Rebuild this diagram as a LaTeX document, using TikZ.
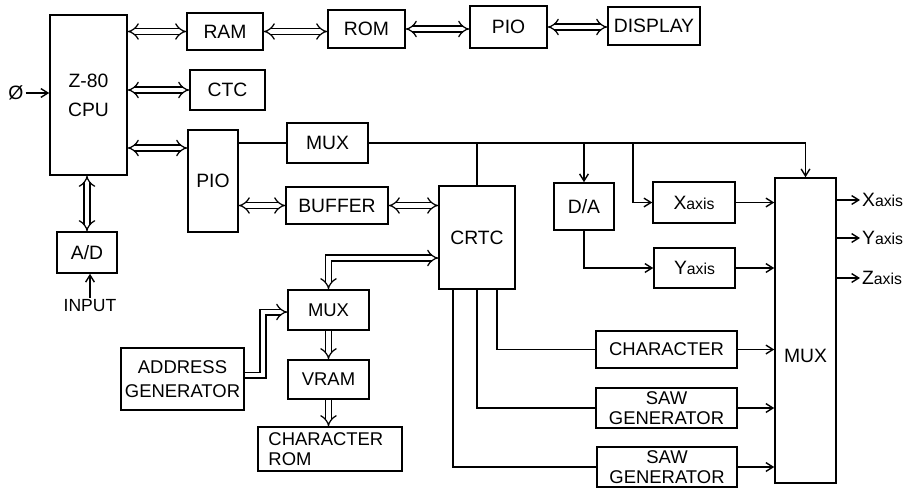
\documentclass[tikz,border=0pt]{standalone}
\usepackage{fontspec}
\setmainfont{Liberation Sans}
\usetikzlibrary{arrows.meta}

\begin{document}
\begin{tikzpicture}[
  x=0.02cm, y=-0.02cm,
  blk/.style={draw, line width=0.9pt, inner sep=1pt, align=center, font=\fontsize{11}{12.5}\selectfont},
  sml/.style={blk, font=\fontsize{10.5}{11.5}\selectfont},
  bus/.style={line width=0.7pt, double, double distance=2.6pt, {Implies}-{Implies}},
  busr/.style={line width=0.7pt, double, double distance=2.6pt, -{Implies}},
  sig/.style={line width=0.8pt, -{Straight Barb[length=4pt,width=5pt]}},
  wire/.style={line width=0.8pt},
  axl/.style={font=\fontsize{11}{12}\selectfont, inner sep=1pt}
]
  \useasboundingbox (0,0) rectangle (911,488);

  % processor side
  \node[blk, minimum width=1.54cm, minimum height=3.2cm] (cpu) at (88.5,95) {Z-80\\[4pt]CPU};
  \node[blk, minimum width=1.52cm, minimum height=0.74cm] (ram) at (225,31.5) {RAM};
  \node[blk, minimum width=1.54cm, minimum height=0.76cm] (rom) at (366.5,29) {ROM};
  \node[blk, minimum width=1.54cm, minimum height=0.84cm] (pioa) at (508.5,27) {PIO};
  \node[blk, minimum width=1.84cm, minimum height=0.76cm] (disp) at (654,26) {DISPLAY};
  \node[blk, minimum width=1.5cm, minimum height=0.8cm] (ctc) at (227.5,90) {CTC};
  \node[blk, minimum width=1.0cm, minimum height=2.04cm] (piob) at (213,181) {PIO};
  \node[blk, minimum width=1.2cm, minimum height=0.82cm] (adc) at (87,252.5) {A/D};
  \node[axl, font=\fontsize{10}{11}\selectfont] (inp) at (90,306) {INPUT};
  \node[axl] (phi) at (16,93) {Ø};

  % display controller side
  \node[blk, minimum width=1.62cm, minimum height=0.8cm] (muxa) at (327.5,143) {MUX};
  \node[blk, minimum width=2.04cm, minimum height=0.74cm] (buf) at (337,205.5) {BUFFER};
  \node[blk, minimum width=1.52cm, minimum height=2.06cm] (crtc) at (477,237.5) {CRTC};
  \node[blk, minimum width=1.2cm, minimum height=0.94cm] (da) at (584,206.5) {D/A};
  \node[blk, minimum width=1.64cm, minimum height=0.82cm] (xax) at (694,202.5) {X{\small axis}};
  \node[blk, minimum width=1.62cm, minimum height=0.8cm] (yax) at (694.5,268) {Y{\small axis}};
  \node[blk, minimum width=1.22cm, minimum height=6.1cm, label={[yshift=-0.5cm, font=\fontsize{11}{12}\selectfont]center:MUX}] (muxo) at (805.5,330.5) {};
  \node[sml, minimum width=2.82cm, minimum height=0.74cm] (chr) at (666.5,349.5) {CHARACTER};
  \node[sml, minimum width=2.82cm, minimum height=0.8cm] (sawa) at (666.5,408) {SAW\\GENERATOR};
  \node[sml, minimum width=2.8cm, minimum height=0.8cm] (sawb) at (667,467) {SAW\\GENERATOR};

  % character generation
  \node[sml, minimum width=1.62cm, minimum height=0.8cm] (muxb) at (328.5,310) {MUX};
  \node[sml, minimum width=1.62cm, minimum height=0.78cm] (vram) at (328.5,379.5) {VRAM};
  \node[sml, minimum width=2.88cm, minimum height=0.88cm, align=left] (crom) at (330,449) {CHARACTER\\ROM\hspace*{1.6cm}};
  \node[sml, minimum width=2.46cm, minimum height=1.24cm] (addr) at (182.5,379) {ADDRESS\\[2pt]GENERATOR};

  % outputs
  \node[axl, anchor=west] (xo) at (860,200) {X{\small axis}};
  \node[axl, anchor=west] (yo) at (860,238) {Y{\small axis}};
  \node[axl, anchor=west] (zo) at (860,278) {Z{\small axis}};

  \coordinate (xbr) at (633,143);
  \coordinate (abend) at (263,312);

  % buses
  \draw[bus] (cpu.east |- ram.west) -- (ram.west);
  \draw[bus] (ram.east) -- (ram.east -| rom.west);
  \draw[bus] (rom.east) -- (rom.east -| pioa.west);
  \draw[bus] (pioa.east) -- (pioa.east -| disp.west);
  \draw[bus] (cpu.east |- ctc.west) -- (ctc.west);
  \draw[bus] (cpu.east |- 0,148) -- (piob.west |- 0,148);
  \draw[bus] (piob.east |- buf.west) -- (buf.west);
  \draw[bus] (buf.east) -- (buf.east -| crtc.west);
  \draw[bus] (adc.north |- cpu.south) -- (adc.north);
  \draw[bus] (muxb.north) |- (crtc.west |- 0,258);
  \draw[busr] (addr.east |- 0,375) -| (abend) -- (muxb.west |- abend);
  \draw[busr] (muxb.south) -- (vram.north);
  \draw[busr] (vram.south) -- (vram.south |- crom.north);

  % signals
  \draw[sig] (phi.east) -- (cpu.west |- phi.east);
  \draw[sig] (inp.north) -- (inp.north |- adc.south);
  \draw[wire] (piob.east |- muxa.west) -- (muxa.west);
  \draw[sig] (muxa.east) -| (muxo.north);
  \draw[wire] (crtc.north |- muxa.east) -- (crtc.north);
  \draw[sig] (da.north |- muxa.east) -- (da.north);
  \draw[sig] (xbr) |- (xax.west);
  \draw[sig] (da.south) |- (yax.west);
  \draw[sig] (xax.east) -- (xax.east -| muxo.west);
  \draw[sig] (yax.east) -- (yax.east -| muxo.west);
  \draw[wire] ([xshift=0.4cm]crtc.south) |- (chr.west);
  \draw[wire] (crtc.south) |- (sawa.west);
  \draw[wire] ([xshift=-0.48cm]crtc.south) |- (sawb.west);
  \draw[sig] (chr.east) -- (chr.east -| muxo.west);
  \draw[sig] (sawa.east) -- (sawa.east -| muxo.west);
  \draw[sig] (sawb.east) -- (sawb.east -| muxo.west);
  \draw[sig] (muxo.east |- xo.west) -- (xo.west);
  \draw[sig] (muxo.east |- yo.west) -- (yo.west);
  \draw[sig] (muxo.east |- zo.west) -- (zo.west);
\end{tikzpicture}
\end{document}
